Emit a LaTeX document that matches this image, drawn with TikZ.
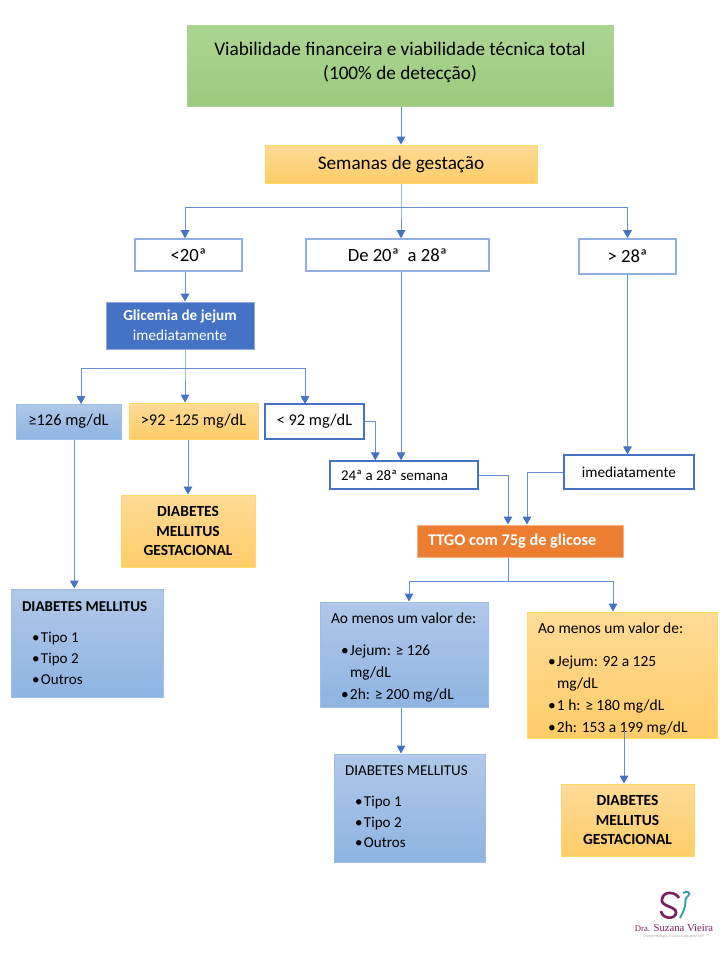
\documentclass[tikz,border=0pt]{standalone}
\usepackage{fontspec}
\setmainfont{Carlito}
\newfontfamily\logofont{Liberation Serif}
\usetikzlibrary{arrows.meta,calc}

\definecolor{connblue}{RGB}{100,142,210}
\definecolor{tipblue}{RGB}{68,114,196}
\definecolor{edgeblue}{RGB}{143,176,224}
\definecolor{darkedge}{RGB}{68,114,196}
\definecolor{logoplum}{RGB}{122,32,96}
\definecolor{logoteal}{RGB}{48,160,160}

\tikzset{every picture/.style={line width=0.75pt}}
\tikzset{
  boxsize/.style 2 args={minimum width=#1*0.75pt,minimum height=#2*0.75pt,inner sep=0pt},
  listsize/.style 2 args={minimum height=#2*0.75pt,inner ysep=0pt,inner xsep=8.25pt,text width=#1*0.75pt-16.5pt,align=flush left},
  greenbox/.style={draw={rgb,255:red,169;green,209;blue,142},top color={rgb,255:red,172;green,212;blue,146},bottom color={rgb,255:red,155;green,203;blue,124}},
  yellowbox/.style={draw={rgb,255:red,255;green,217;blue,102},top color={rgb,255:red,255;green,219;blue,150},bottom color={rgb,255:red,255;green,204;blue,105}},
  bluebox/.style={draw={rgb,255:red,157;green,190;blue,230},top color={rgb,255:red,176;green,200;blue,232},bottom color={rgb,255:red,142;green,180;blue,226}},
  whitebox/.style={draw=edgeblue,fill=white,line width=1.2pt},
  whiteboxdark/.style={draw=darkedge,fill=white,line width=1pt},
  conn/.style={draw=connblue,line width=0.75pt,-{Triangle[length=6pt,width=6.5pt,color=tipblue]}},
  bigtxt/.style={font=\fontsize{14.4}{18}\selectfont},
  weektxt/.style={font=\fontsize{14}{16}\selectfont},
  midtxt/.style={font=\fontsize{12.3}{15}\selectfont},
  smalltxt/.style={font=\fontsize{11.4}{15}\selectfont},
  boldtxt/.style={font=\fontsize{11.6}{14.75}\bfseries\selectfont},
  listtxt/.style={font=\fontsize{11.6}{16.5}\selectfont},
  dmtxt/.style={font=\fontsize{11.3}{15.5}\selectfont},
}
\newcommand{\lbul}[1]{\hspace*{7.5pt}\makebox[6.75pt][l]{\textbullet}#1}
\newcommand{\lcont}[1]{\hspace*{14.25pt}#1}

\begin{document}
\begin{tikzpicture}[x=0.75pt,y=0.75pt,yscale=-1,xscale=1]
    \useasboundingbox (0,0) rectangle (720,960);

    %Top boxes
    \node (viab) [greenbox,boxsize={426}{81},bigtxt,align=center] at (400,65.5) {Viabilidade financeira e viabilidade técnica total\\(100\% de detecção)\\[-10.5pt]};
    \node (sem) [yellowbox,boxsize={272}{38},bigtxt] at (401,164) {Semanas de gestação};

    %Weeks
    \node (lt20) [whitebox,boxsize={107}{32},weektxt] at (188.5,255) {<20ª};
    \node (de20) [whitebox,boxsize={183}{32},weektxt] at (397.5,255) {De 20ª~ a 28ª};
    \node (gt28) [whitebox,boxsize={97}{35},weektxt] at (627.5,256.5) {> 28ª};

    %Fasting glucose
    \node (glic) [draw={rgb,255:red,143;green,170;blue,220},fill=darkedge,text=white,boxsize={148}{47},smalltxt,align=center] at (180,325.5) {\textbf{Glicemia de jejum}\\imediatamente};
    \node (v126) [bluebox,boxsize={105}{35},midtxt] at (68.5,421.5) {≥126 mg/dL};
    \node (v92) [yellowbox,boxsize={129}{36},midtxt] at (193.5,421) {>92 -125 mg/dL};
    \node (lt92) [whiteboxdark,boxsize={99}{35},midtxt] at (314.5,421.5) {< 92 mg/dL};

    \node (gestl) [yellowbox,boxsize={134}{72},boldtxt,align=center] at (188,531) {DIABETES\\MELLITUS\\GESTACIONAL};
    \node (dml) [bluebox,listsize={152}{108},dmtxt] at (87,643) {\textbf{DIABETES MELLITUS}\\[8pt]\lbul{Tipo 1}\\\lbul{Tipo 2}\\\lbul{Outros}};

    %Middle and right
    \node (sem24) [whiteboxdark,listsize={148}{28},font=\fontsize{11.2}{15}\selectfont] at (404,475) {24ª a 28ª semana};
    \node (imed) [whiteboxdark,boxsize={130}{34},smalltxt] at (629,472) {imediatamente};
    \node (ttgo) [draw={rgb,255:red,244;green,177;blue,131},fill={rgb,255:red,237;green,125;blue,49},text=white,listsize={206}{32},font=\fontsize{12.25}{14}\bfseries\selectfont] at (520,541) {TTGO com 75g de glicose};

    %Results
    \node (aol) [bluebox,listsize={168}{105},listtxt] at (404,654.5) {\rule{0pt}{12.7pt}Ao menos um valor de:\\[8pt]\lbul{Jejum: ≥ 126}\\\lcont{mg/dL}\\\lbul{2h: ≥ 200 mg/dL}};
    \node (aor) [yellowbox,listsize={190}{126},listtxt] at (622,675) {\rule{0pt}{13.5pt}Ao menos um valor de:\\[8pt]\lbul{Jejum: 92 a 125}\\\lcont{mg/dL}\\\lbul{1 h: ≥ 180 mg/dL}\\\lbul{2h: 153 a 199 mg/dL}};
    \node (dmm) [bluebox,listsize={151}{108},dmtxt] at (409.5,808) {DIABETES MELLITUS\\[8pt]\lbul{Tipo 1}\\\lbul{Tipo 2}\\\lbul{Outros}\rule[-2.25pt]{0pt}{0pt}};
    \node (gestr) [yellowbox,boxsize={133}{72},boldtxt,align=center] at (627.5,820) {DIABETES\\MELLITUS\\GESTACIONAL};

    %Junctions
    \coordinate (jsem) at (401,207);
    \coordinate (jglic) at (185,368);
    \coordinate (jttgo) at (508,581);

    %Straight Lines
    \draw [conn] (viab.south -| sem.north) -- (sem.north);
    \draw [conn] (sem.south) -- (jsem) -- (sem.south |- de20.north);
    \draw [conn] (jsem) -| (jglic |- lt20.north);
    \draw [conn] (jsem) -| (gt28.north);
    \draw [conn] (jglic |- lt20.south) -- (jglic |- glic.north);
    \draw [conn] (jglic |- glic.south) -- (jglic) -- (jglic |- v92.north);
    \draw [conn] (jglic) -| (81,404);
    \draw [conn] (jglic) -| (305,404);
    \draw [conn] ([xshift=-9.5pt]dml.north |- v126.south) -- ([xshift=-9.5pt]dml.north);
    \draw [conn] (gestl.north |- v92.south) -- (gestl.north);
    \draw [conn] (lt92.east) -| ([xshift=-21.5pt]sem24.north);
    \draw [conn] (sem.south |- de20.south) -- (sem.south |- sem24.north);
    \draw [conn] (gt28.south) -- (gt28.south |- imed.north);
    \draw [conn] (sem24.east) -| (jttgo |- ttgo.north);
    \draw [conn] (imed.west) -| ([xshift=5.25pt]ttgo.north);
    \draw [conn] (jttgo |- ttgo.south) -- (jttgo) -| ([xshift=3.75pt]aol.north);
    \draw [conn] (jttgo) -| ([xshift=-6.75pt]aor.north);
    \draw [conn] (sem.south |- aol.south) -- (sem.south |- dmm.north);
    \draw [conn] ([yshift=-6pt,xshift=1.5pt]aor.south) -- ([xshift=1.5pt]aor.south |- gestr.north);

    %Logo
    \draw [logoplum,line width=2pt] (679,898) .. controls (676,892) and (664,890) .. (662,899) .. controls (660,907) and (677,906) .. (676,913) .. controls (675,920) and (662,919) .. (661,911);
    \draw [logoteal,line width=1.4pt] (683,893) .. controls (688,890) and (691,893) .. (688,896) .. controls (684,899) and (686,902) .. (685,906) .. controls (684,911) and (682,914) .. (680,918);
    \node (logoname) [text=logoplum,inner sep=0pt,font=\logofont\fontsize{8}{9}\selectfont] at (674,928) {{\fontsize{6.5}{9}\selectfont Dra.} Suzana Vieira};
    \node (logosub) [text=black!35,inner sep=0pt,font=\fontsize{3}{4}\selectfont] at (674,936) {Endocrinologia e Doutorado pela USP};
\end{tikzpicture}
\end{document}
